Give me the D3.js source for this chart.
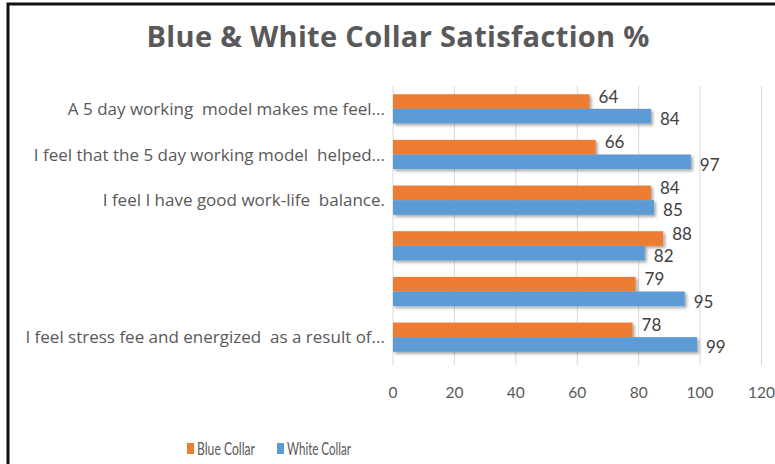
<!DOCTYPE html>
<html>
<head>
<meta charset="utf-8">
<script src="https://cdn.jsdelivr.net/npm/d3@7"></script>
<style>
  body { margin: 0; background: #fff; }
  svg { display: block; font-family: Lato, "Open Sans", sans-serif; }
</style>
</head>
<body>
<div id="chart"></div>
<script>
// data
const questions = [
  "A 5 day working  model makes me feel...",
  "I feel that the 5 day working model  helped...",
  "I feel I have good work-life  balance.",
  "",
  "",
  "I feel stress fee and energized  as a result of..."
];
const blueCollar = [64, 66, 84, 88, 79, 78];
const whiteCollar = [84, 97, 85, 82, 95, 99];
const seriesNames = ["Blue Collar", "White Collar"];
const xTicks = [0, 20, 40, 60, 80, 100, 120];

const width = 775
const height = 464
const colors = ["#ED7D31", "#5B9BD5"]

const svg = d3.select("#chart")
  .append("svg")
  .attr("width", width)
  .attr("height", height)

// soft shadow under bars
const defs = svg.append("defs")
const f = defs.append("filter").attr("id", "shadow")
  .attr("x", "-5%").attr("y", "-30%").attr("width", "115%").attr("height", "180%")
f.append("feDropShadow")
  .attr("dx", 2).attr("dy", 2).attr("stdDeviation", 1.5)
  .attr("flood-color", "#000").attr("flood-opacity", 0.35)

// frame (only top and left edges show)
svg.append("path")
  .attr("d", `M8,${height} L8,4 L${width},4`)
  .attr("fill", "none")
  .attr("stroke", "#111")
  .attr("stroke-width", 3)

svg.append("text")
  .attr("x", 398)
  .attr("y", 47)
  .attr("text-anchor", "middle")
  .attr("font-family", "'Open Sans', sans-serif")
  .attr("font-size", 29)
  .attr("font-weight", "bold")
  .attr("textLength", 503)
  .attr("fill", "#595959")
  .text("Blue & White Collar Satisfaction %")

const x = d3.scaleLinear().domain([0, 120]).range([393, 761.5])
const y = d3.scaleBand().domain(d3.range(questions.length)).range([86, 360]).paddingInner(0.36).paddingOuter(0.18)
const ySub = d3.scaleBand().domain([0, 1]).range([0, y.bandwidth()])

// grid
svg.append("g")
  .selectAll("line")
  .data(xTicks)
  .join("line")
  .attr("x1", d => x(d)).attr("x2", d => x(d))
  .attr("y1", 86).attr("y2", 365)
  .attr("stroke", "#d9d9d9")
  .attr("stroke-width", 1)

// tick labels
svg.append("g")
  .selectAll("text")
  .data(xTicks)
  .join("text")
  .attr("x", d => x(d))
  .attr("y", 398)
  .attr("text-anchor", "middle")
  .attr("font-size", 15.5)
  .attr("fill", "#595959")
  .text(d => d)

// category labels
svg.append("g")
  .selectAll("text")
  .data(questions)
  .join("text")
  .attr("x", 385)
  .attr("y", (d, i) => y(i) + y.bandwidth() / 2 + 6)
  .attr("text-anchor", "end")
  .attr("font-family", "'Open Sans', sans-serif")
  .attr("font-size", 17)
  .attr("fill", "#595959")
  .style("white-space", "pre")
  .text(d => d)

const series = [blueCollar, whiteCollar]
series.forEach((vals, s) => {
  const g = svg.append("g")
  g.selectAll("rect")
    .data(vals)
    .join("rect")
    .attr("x", x(0))
    .attr("y", (d, i) => y(i) + ySub(s))
    .attr("width", d => x(d) - x(0))
    .attr("height", ySub.bandwidth())
    .attr("fill", colors[s])
    .attr("filter", "url(#shadow)")
  g.selectAll("text")
    .data(vals)
    .join("text")
    .attr("x", d => x(d) + 9)
    .attr("y", (d, i) => y(i) + ySub(s) + ySub.bandwidth() / 2 + (s === 0 ? 1 : 9))
    .attr("font-size", 17)
    .attr("fill", "#404040")
    .text(d => d)
})

// legend
const legendX = [187, 277]
const lg = svg.append("g")
seriesNames.forEach((name, s) => {
  lg.append("rect")
    .attr("x", legendX[s]).attr("y", 443)
    .attr("width", 7).attr("height", 11)
    .attr("fill", colors[s])
  lg.append("text")
    .attr("x", legendX[s] + 10).attr("y", 455)
    .attr("font-size", 18)
    .attr("textLength", s === 0 ? 58 : 64)
    .attr("lengthAdjust", "spacingAndGlyphs")
    .attr("fill", "#595959")
    .text(name)
})
</script>
</body>
</html>
